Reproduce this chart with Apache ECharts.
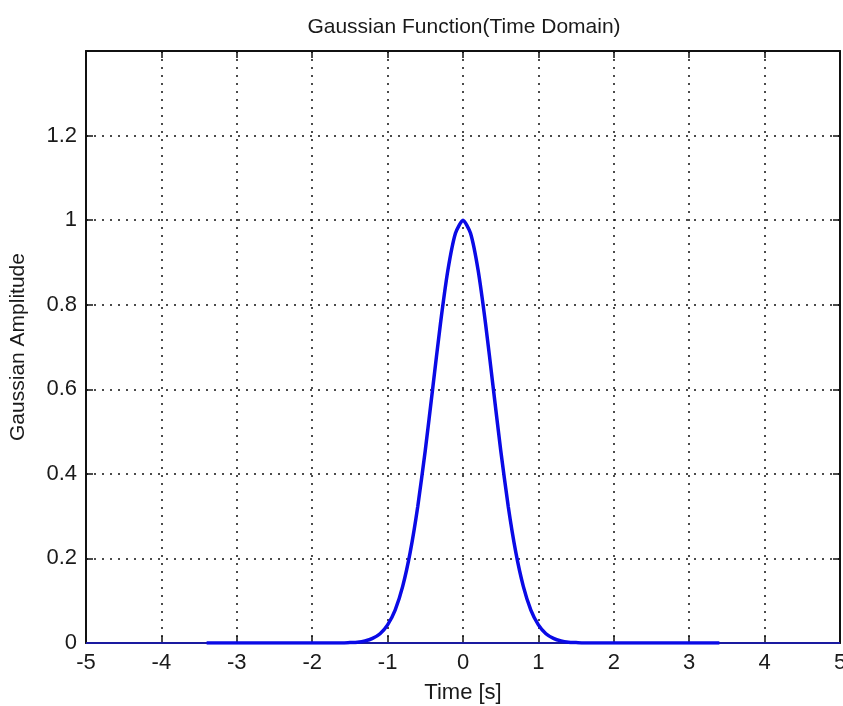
<!DOCTYPE html>
<html>
<head>
<meta charset="utf-8">
<script src="https://cdn.jsdelivr.net/npm/echarts@6/dist/echarts.min.js"></script>
<style>
html,body{margin:0;padding:0;background:#fff;}
#chart{width:843px;height:706px;}
</style>
</head>
<body>
<div id="chart"></div>
<script>
const titleText = 'Gaussian Function(Time Domain)';
const xLabel = 'Time [s]';
const yLabel = 'Gaussian Amplitude';
const xTicks = [-5, -4, -3, -2, -1, 0, 1, 2, 3, 4, 5];
const yTicks = [0, 0.2, 0.4, 0.6, 0.8, 1, 1.2, 1.4];

// Gaussian pulse
const timeS = [-3.4, -1.6, -1.5, -1.4, -1.3, -1.2, -1.1, -1.0, -0.9, -0.8, -0.7, -0.6, -0.5, -0.4, -0.3, -0.2, -0.1, 0,
  0.1, 0.2, 0.3, 0.4, 0.5, 0.6, 0.7, 0.8, 0.9, 1.0, 1.1, 1.2, 1.3, 1.4, 1.5, 1.6, 3.4];
const amplitude = [0, 0, 0.001, 0.002, 0.005, 0.011, 0.022, 0.043, 0.078, 0.134, 0.215, 0.323, 0.456, 0.605, 0.754, 0.882, 0.969, 1.0,
  0.969, 0.882, 0.754, 0.605, 0.456, 0.323, 0.215, 0.134, 0.078, 0.043, 0.022, 0.011, 0.005, 0.002, 0.001, 0, 0];

// thin baseline segment over the full time span
const baseTime = [-5, 5];
const baseAmp = [0, 0];

const pulseData = timeS.map((t, i) => [t, amplitude[i]]);
const baseData = baseTime.map((t, i) => [t, baseAmp[i]]);

const tickFont = '"Liberation Sans Narrow", "Liberation Sans", Arial, sans-serif';
const xMin = xTicks[0], xMax = xTicks[xTicks.length - 1];
const yMin = yTicks[0], yMax = yTicks[yTicks.length - 1];

const chart = echarts.init(document.getElementById('chart'), null, {renderer: 'canvas'});
const dotted = {color: '#111', width: 1.5, type: [2, 6]};
chart.setOption({
  animation: false,
  backgroundColor: '#ffffff',
  title: {
    text: titleText,
    left: 459, top: 12, textAlign: 'center',
    textStyle: {fontFamily: '"Liberation Sans", Arial, sans-serif', fontSize: 21, fontWeight: 'normal', color: '#1a1a1a'}
  },
  grid: {left: 86, right: 3, top: 51, bottom: 63, containLabel: false, outerBoundsMode: 'none'},
  xAxis: [{
    type: 'value', min: xMin, max: xMax, interval: 1,
    name: xLabel, nameLocation: 'middle', nameGap: 39,
    nameTextStyle: {fontFamily: tickFont, fontSize: 22, color: '#1a1a1a'},
    axisLine: {show: true, onZero: false, lineStyle: {color: '#111', width: 2}},
    axisTick: {show: true, inside: true, length: 7, lineStyle: {color: '#111', width: 1.5}},
    axisLabel: {fontFamily: tickFont, fontSize: 22, color: '#1a1a1a', margin: 9},
    splitLine: {show: true, lineStyle: dotted}
  }, {
    type: 'value', position: 'top', min: xMin, max: xMax, interval: 1,
    axisLine: {show: true, onZero: false, lineStyle: {color: '#111', width: 2}},
    axisTick: {show: true, inside: true, length: 7, lineStyle: {color: '#111', width: 1.5}},
    axisLabel: {show: false}, splitLine: {show: false}
  }],
  yAxis: [{
    type: 'value', min: yMin, max: yMax, interval: 0.2,
    name: yLabel, nameLocation: 'middle', nameGap: 57,
    nameTextStyle: {fontFamily: '"Liberation Sans", Arial, sans-serif', fontSize: 21, color: '#1a1a1a'},
    axisLine: {show: true, onZero: false, lineStyle: {color: '#111', width: 2}},
    axisTick: {show: true, inside: true, length: 7, lineStyle: {color: '#111', width: 1.5}},
    axisLabel: {fontFamily: tickFont, fontSize: 22, color: '#1a1a1a', margin: 9, showMaxLabel: false,
      formatter: v => (Math.abs(v - yMax) < 1e-9 ? '' : String(Math.round(v * 10) / 10))},
    splitLine: {show: true, lineStyle: dotted}
  }, {
    type: 'value', position: 'right', min: yMin, max: yMax, interval: 0.2,
    axisLine: {show: true, onZero: false, lineStyle: {color: '#111', width: 2}},
    axisTick: {show: true, inside: true, length: 7, lineStyle: {color: '#111', width: 1.5}},
    axisLabel: {show: false}, splitLine: {show: false}
  }],
  series: [{
    type: 'line', data: baseData, xAxisIndex: 0, yAxisIndex: 0,
    symbol: 'none', lineStyle: {color: '#1a1aa0', width: 2}, z: 3
  }, {
    type: 'line', data: pulseData, xAxisIndex: 0, yAxisIndex: 0,
    symbol: 'none', smooth: 0.2, lineStyle: {color: '#0a0ae6', width: 3.5}, z: 4
  }]
});
</script>
</body>
</html>
